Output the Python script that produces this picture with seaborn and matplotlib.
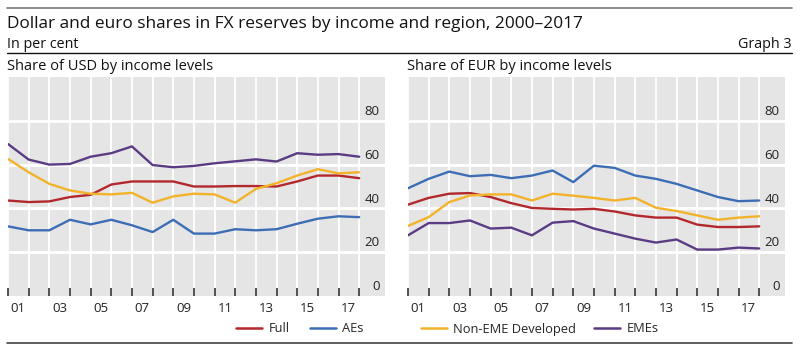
"""Dollar and euro shares in FX reserves by income and region"""

import numpy as np
import pandas as pd
import matplotlib
matplotlib.use("Agg")
import matplotlib.pyplot as plt
import seaborn as sns

years = list(range(2000, 2018))

# Share of USD (per cent)
usd_full = [43.6, 42.9, 43.2, 45.2, 46.2, 50.9, 52.3, 52.3, 52.3, 50.0, 50.0, 50.2,
            50.2, 50.0, 52.3, 55.0, 55.0, 53.8]
usd_aes = [31.8, 30.0, 30.0, 34.8, 32.7, 34.8, 32.3, 29.2, 34.8, 28.5, 28.5, 30.5,
           30.0, 30.5, 33.0, 35.3, 36.4, 36.0]
usd_nonemedev = [62.6, 56.5, 51.2, 48.2, 46.7, 46.4, 47.1, 42.6, 45.5, 46.7, 46.4, 42.6,
                 48.9, 51.5, 55.0, 57.9, 56.0, 56.5]
usd_emes = [69.4, 62.3, 60.0, 60.3, 63.6, 65.2, 68.3, 59.8, 58.8, 59.4, 60.6, 61.5,
            62.4, 61.4, 65.2, 64.5, 64.8, 63.6]

# Share of EUR (per cent)
eur_full = [41.7, 44.8, 46.7, 47.0, 45.2, 42.4, 40.2, 39.8, 39.5, 39.8, 38.6, 36.8,
            35.8, 35.8, 32.6, 31.5, 31.5, 31.8]
eur_aes = [49.2, 53.5, 56.8, 54.7, 55.3, 53.8, 55.0, 57.3, 52.0, 59.5, 58.5, 55.0,
           53.5, 51.2, 48.2, 45.2, 43.3, 43.6]
eur_nonemedev = [32.0, 36.0, 42.9, 45.9, 46.4, 46.4, 43.6, 46.7, 45.8, 44.8, 43.6, 44.8,
                 40.3, 38.8, 36.8, 34.8, 35.8, 36.4]
eur_emes = [27.7, 33.3, 33.3, 34.5, 30.8, 31.2, 27.7, 33.5, 34.2, 30.8, 28.5, 26.2,
            24.4, 25.8, 21.2, 21.2, 22.1, 21.7]

groups = ["Full", "AEs", "Non-EME Developed", "EMEs"]
palette = {"Full": "#b3282d", "AEs": "#3d6db5",
           "Non-EME Developed": "#f2b32a", "EMEs": "#5c3b85"}
yticks = [0, 20, 40, 60, 80]
xlabels_years = list(range(2001, 2018, 2))


def long_frame(series):
    rows = []
    for name, vals in zip(groups, series):
        for y, v in zip(years, vals):
            # annual figures plotted at year end
            rows.append({"pos": y + 1.0, "value": v, "group": name})
    return pd.DataFrame(rows)


sns.set_theme(style="white")
plt.rcParams["font.family"] = ["Open Sans", "DejaVu Sans"]

fig = plt.figure(figsize=(8.0, 3.53), dpi=100)
W, H = 800.0, 353.0

panels = [
    ("Share of USD by income levels", [usd_full, usd_aes, usd_nonemedev, usd_emes], 8),
    ("Share of EUR by income levels", [eur_full, eur_aes, eur_nonemedev, eur_emes], 408),
]

axes = []
for title, series, left_px in panels:
    ax = fig.add_axes([left_px / W, (H - 296) / H, 377 / W, 219 / H])
    ax.set_facecolor("#e5e5e5")
    df = long_frame(series)
    sns.lineplot(data=df, x="pos", y="value", hue="group", palette=palette,
                 hue_order=groups, linewidth=1.7, ax=ax, legend=False)
    ax.set_xlim(2001, 2019.25)
    ax.set_ylim(0, 100)

    # white grid
    for yv in yticks[1:]:
        ax.axhline(yv, color="white", lw=2.0, zorder=0.5)
    ax.set_xticks(np.arange(2001, 2019))
    ax.set_xticklabels([])
    for xv in range(2001, 2019):
        ax.axvline(xv, color="white", lw=1.3, zorder=0.5)
    ax.tick_params(axis="x", which="major", direction="in", length=6,
                   width=1.2, color="#333333", bottom=True)
    ax.set_xticks([y + 0.5 for y in xlabels_years], minor=True)
    ax.set_xticklabels([str(y)[2:] for y in xlabels_years], minor=True)
    ax.tick_params(axis="x", which="minor", length=0, pad=4, labelsize=9.5,
                   labelcolor="#222222")
    ax.set_yticks([])
    for yv in yticks:
        ax.annotate(str(yv), xy=(1, yv), xycoords=("axes fraction", "data"),
                    xytext=(-4, 2), textcoords="offset points",
                    ha="right", va="bottom", fontsize=9.5, color="#222222")
    for s in ax.spines.values():
        s.set_visible(False)
    ax.set_xlabel("")
    ax.set_ylabel("")
    fig.text((left_px - 1) / W, 1 - 66 / H, title, fontsize=10.5, va="center",
             ha="left", color="#111111")
    axes.append(ax)

# header
fig.text(7 / W, 1 - 24 / H, "Dollar and euro shares in FX reserves by income and region, 2000\u20132017",
         fontsize=12.4, va="center", ha="left", color="#111111")
fig.text(7 / W, 1 - 44 / H, "In per cent", fontsize=10.3, va="center", ha="left", color="#111111")
fig.text(792 / W, 1 - 44 / H, "Graph 3", fontsize=10.3, va="center", ha="right", color="#111111")
fig.add_artist(plt.Line2D([7 / W, 792 / W], [1 - 8 / H, 1 - 8 / H], color="#777777", lw=1.2))
fig.add_artist(plt.Line2D([7 / W, 792 / W], [1 - 53 / H, 1 - 53 / H], color="#111111", lw=1.0))
fig.add_artist(plt.Line2D([7 / W, 792 / W], [1 - 343 / H, 1 - 343 / H], color="#444444", lw=1.2))

# legends
handles = {g: plt.Line2D([], [], color=palette[g], lw=1.8) for g in groups}
fig.legend([handles["Full"], handles["AEs"]], ["Full", "AEs"], ncol=2,
           loc="center left", bbox_to_anchor=(236 / W, 1 - 329 / H), frameon=False,
           fontsize=9.3, handlelength=2.0, handletextpad=0.5, columnspacing=1.6,
           borderaxespad=0, borderpad=0)
fig.legend([handles["Non-EME Developed"], handles["EMEs"]], ["Non-EME Developed", "EMEs"],
           ncol=2, loc="center left", bbox_to_anchor=(421 / W, 1 - 329 / H), frameon=False,
           fontsize=9.3, handlelength=2.0, handletextpad=0.5, columnspacing=1.4,
           borderaxespad=0, borderpad=0)

fig.savefig("out.png", dpi=100, facecolor="white")
